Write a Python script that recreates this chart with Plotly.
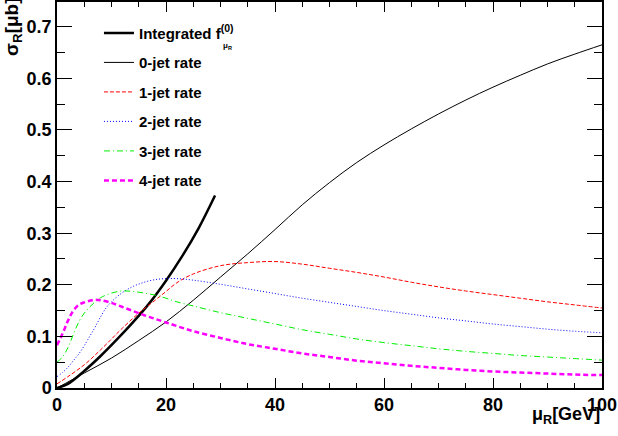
import plotly.graph_objects as go

# ---------------- data ----------------
integ_x = [0, 2, 5, 8, 11, 14, 17, 20, 23, 26, 29]
integ_y = [0, 0.008, 0.033, 0.062, 0.094, 0.128, 0.165, 0.208, 0.256, 0.31, 0.373]

jet0_x = [0, 5, 10, 15, 20, 25, 30, 35, 40, 45, 50, 55, 60, 65, 70, 75, 80, 85, 90, 95, 100]
jet0_y = [0, 0.029, 0.058, 0.092, 0.128, 0.17, 0.215, 0.26, 0.307, 0.355, 0.398, 0.437, 0.471,
          0.502, 0.531, 0.558, 0.583, 0.606, 0.628, 0.647, 0.665]

jet1_x = [0, 2, 5, 8, 10, 12, 15, 18, 20, 22, 25, 30, 35, 40, 45, 50, 55, 60, 65, 70, 75, 80,
          85, 90, 95, 100]
jet1_y = [0.008, 0.022, 0.045, 0.074, 0.095, 0.116, 0.145, 0.17, 0.187, 0.204, 0.221, 0.237,
          0.243, 0.245, 0.24, 0.232, 0.224, 0.215, 0.205, 0.196, 0.188, 0.181, 0.174, 0.167,
          0.161, 0.155]

jet2_x = [0, 1, 2, 3, 4, 5, 6, 7, 8, 9, 10, 12, 14, 16, 18, 20, 22, 25, 30, 35, 40, 45, 50,
          55, 60, 65, 70, 75, 80, 85, 90, 95, 100]
jet2_y = [0.022, 0.03, 0.04, 0.053, 0.066, 0.082, 0.1, 0.118, 0.138, 0.155, 0.167, 0.185,
          0.197, 0.205, 0.21, 0.212, 0.212, 0.209, 0.201, 0.192, 0.183, 0.174, 0.166, 0.158,
          0.15, 0.143, 0.136, 0.13, 0.124, 0.119, 0.114, 0.11, 0.107]

jet3_x = [0, 1, 2, 3, 4, 5, 6, 7, 8, 10, 12, 14, 16, 18, 20, 22, 25, 30, 35, 40, 45, 50, 55,
          60, 65, 70, 75, 80, 85, 90, 95, 100]
jet3_y = [0.05, 0.06, 0.078, 0.104, 0.128, 0.145, 0.157, 0.167, 0.175, 0.184, 0.188, 0.187,
          0.184, 0.18, 0.174, 0.167, 0.159, 0.146, 0.135, 0.124, 0.113, 0.104, 0.095, 0.088,
          0.082, 0.076, 0.071, 0.067, 0.063, 0.06, 0.057, 0.054]

jet4_x = [0, 1, 2, 3, 4, 5, 6, 7, 8, 10, 12, 14, 16, 18, 20, 22, 25, 30, 35, 40, 45, 50, 55,
          60, 65, 70, 75, 80, 85, 90, 95, 100]
jet4_y = [0.083, 0.105, 0.13, 0.15, 0.161, 0.166, 0.169, 0.171, 0.17, 0.165, 0.157, 0.149,
          0.141, 0.134, 0.127, 0.12, 0.11, 0.097, 0.085, 0.076, 0.067, 0.06, 0.053, 0.048,
          0.043, 0.039, 0.035, 0.032, 0.03, 0.028, 0.026, 0.025]

names = ["Integrated f<sup>(0)</sup>", "0-jet rate", "1-jet rate", "2-jet rate",
         "3-jet rate", "4-jet rate"]

# ---------------- figure ----------------
FONT = "Liberation Sans, Arial, sans-serif"
fig = go.Figure()

series = [
    (integ_x, integ_y, dict(color="black", width=2.5, dash="solid")),
    (jet0_x, jet0_y, dict(color="black", width=1, dash="solid")),
    (jet1_x, jet1_y, dict(color="#ff0000", width=1, dash="4px,2px")),
    (jet2_x, jet2_y, dict(color="#0000ff", width=1, dash="1px,2px")),
    (jet3_x, jet3_y, dict(color="#00ee00", width=1, dash="6px,3px,1px,3px")),
    (jet4_x, jet4_y, dict(color="#ff00ff", width=2.5, dash="5px,3px")),
]
for i, ((xs, ys, ln), nm) in enumerate(zip(series, names)):
    fig.add_trace(go.Scatter(x=xs, y=ys, mode="lines", name=nm, line=ln,
                             line_shape="spline", legendgroup=f"g{i}"))

axis_common = dict(
    showgrid=False, zeroline=False, showline=True, linecolor="black", linewidth=1.5,
    mirror="allticks", ticks="inside", tickcolor="black", tickwidth=1,
    tickfont=dict(family=FONT, size=18, color="black", weight="bold"),
)
fig.update_xaxes(range=[0, 100], dtick=20, ticklen=10,
                 minor=dict(dtick=5, ticks="inside", ticklen=5, tickcolor="black"),
                 **axis_common)
fig.update_yaxes(range=[0, 0.748], ticklen=15,
                 tickvals=[0, 0.1, 0.2, 0.3, 0.4, 0.5, 0.6, 0.7],
                 ticktext=["0", "0.1", "0.2", "0.3", "0.4", "0.5", "0.6", "0.7"],
                 minor=dict(dtick=0.05, ticks="inside", ticklen=8, tickcolor="black"),
                 **axis_common)

fig.update_layout(
    width=618, height=436,
    margin=dict(l=57, r=16, t=0, b=48),
    paper_bgcolor="white", plot_bgcolor="white",
    showlegend=True,
    legend=dict(x=0.077, y=0.962, xanchor="left", yanchor="top",
                bgcolor="rgba(0,0,0,0)", tracegroupgap=7,
                font=dict(family=FONT, size=15, color="black", weight="bold")),
    annotations=[
        dict(text="<b>σ<sub>R</sub>[μb]</b>", xref="paper", yref="paper",
             x=-0.081, y=0.856, xanchor="center", yanchor="bottom", textangle=-90,
             showarrow=False, font=dict(family=FONT, size=19, color="black")),
        dict(text="<b>μ<sub>R</sub>[GeV]</b>", xref="paper", yref="paper",
             x=1.0, y=-0.07, xanchor="right", yanchor="middle",
             showarrow=False, font=dict(family=FONT, size=18, color="black")),
        dict(text="<b>μ<sub>R</sub></b>", xref="paper", yref="paper",
             x=0.301, y=0.887, xanchor="left", yanchor="middle",
             showarrow=False, font=dict(family=FONT, size=8, color="black")),
    ],
)

fig.write_html("out.html")
